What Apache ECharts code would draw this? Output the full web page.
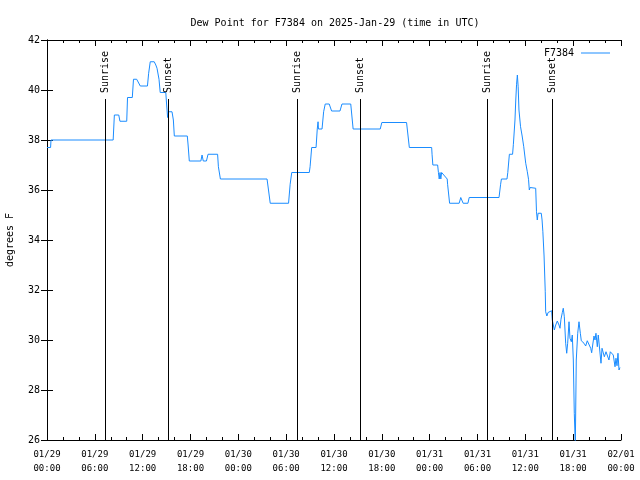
<!DOCTYPE html>
<html>
<head>
<meta charset="utf-8">
<script src="https://cdn.jsdelivr.net/npm/echarts@6/dist/echarts.min.js"></script>
<style>html,body{margin:0;padding:0;background:#fff}#c{width:640px;height:480px}</style>
</head>
<body>
<div id="c"></div>
<script>
// Hours since 2025-01-29 00:00 UTC
const hours = [
  0, 0.45, 0.5, 8.3, 8.45, 9.0, 9.15, 10.0, 10.1, 10.7, 10.85, 11.25, 11.7, 12.6, 12.75, 12.95, 13.45, 13.65, 13.8, 14.05,
  14.2, 14.9, 15.0, 15.13, 15.25, 15.68, 15.85, 15.97, 17.6, 17.7, 17.85, 19.3, 19.45, 19.6, 20.0, 20.2, 21.4, 21.5, 21.75,
  27.6, 27.8, 28.0, 30.3, 30.5, 30.7, 32.9, 33.0, 33.2, 33.75, 33.9, 34.0, 34.05, 34.5, 34.7, 34.9, 35.4, 35.7, 36.75, 37.0,
  38.1, 38.4, 41.8, 42.0, 45.1, 45.45, 48.25, 48.3, 48.4, 49.0, 49.1, 49.2, 49.3, 49.4, 49.5, 50.2, 50.25, 50.5, 51.7, 51.9,
  52.1, 52.2, 52.8, 52.96, 56.7, 56.9, 57.0, 57.7, 57.8, 58.0, 58.4, 58.5, 58.7, 58.8, 58.9, 59.0, 59.1, 59.2, 59.4, 59.6,
  59.8, 60.05, 60.25, 60.4, 60.5, 60.6, 60.7, 61.3, 61.4, 61.5, 61.6, 62.0, 62.1, 62.2, 62.35, 62.5, 62.55, 62.7, 62.85, 63.0,
  63.3, 63.38, 63.64, 63.81, 64.01, 64.22, 64.35, 64.47, 64.64, 64.76, 64.89, 65.06, 65.19, 65.31, 65.48, 65.60, 65.77, 65.89,
  66.02, 66.14, 66.27, 66.39, 66.57, 66.73, 66.90, 67.02, 67.36, 67.57, 67.77, 68.02, 68.20, 68.32, 68.45, 68.61, 68.74, 68.86,
  69.03, 69.15, 69.33, 69.49, 69.62, 69.78, 69.91, 70.12, 70.33, 70.49, 70.66, 70.83, 71.03, 71.25, 71.37, 71.50, 71.62, 71.75, 71.87
];
const dewPoint = [
  37.7, 37.7, 38.0, 38.0, 39.0, 39.0, 38.75, 38.75, 39.7, 39.7, 40.43, 40.43, 40.16, 40.16, 40.67, 41.13, 41.13, 41.0, 40.87, 40.43,
  39.9, 39.9, 39.44, 38.9, 39.13, 39.13, 38.8, 38.16, 38.16, 37.8, 37.16, 37.16, 37.4, 37.16, 37.16, 37.43, 37.43, 36.93, 36.44,
  36.44, 35.96, 35.47, 35.47, 36.23, 36.7, 36.7, 36.93, 37.7, 37.7, 38.44, 38.73, 38.44, 38.44, 39.13, 39.44, 39.44, 39.16, 39.16, 39.44,
  39.44, 38.44, 38.44, 38.7, 38.7, 37.7, 37.7, 37.43, 37.0, 37.0, 36.7, 36.44, 36.7, 36.44, 36.7, 36.44, 36.23, 35.47, 35.47, 35.7,
  35.7, 35.47, 35.47, 35.7, 35.7, 36.23, 36.44, 36.44, 36.7, 37.43, 37.43, 37.83, 38.8, 39.6, 40.23, 40.6, 40.13, 39.2, 38.53, 38.16,
  37.73, 37.07, 36.73, 36.43, 36.0, 36.1, 36.07, 36.07, 35.13, 34.8, 35.07, 35.07, 34.8, 34.33, 33.36, 31.93, 31.13, 30.96, 31.1, 31.17,
  31.17, 30.8, 30.4, 30.6, 30.76, 30.6, 30.47, 30.83, 31.1, 31.27, 30.93, 29.87, 29.47, 29.87, 30.73, 30.07, 29.93, 30.2,
  29.2, 27.07, 25.8, 29.2, 30.27, 30.73, 30.27, 29.97, 29.87, 29.76, 29.97, 29.97, 29.67, 29.49, 29.8, 30.16, 30.0, 30.27,
  29.73, 30.2, 30.27, 29.07, 29.67, 29.73, 29.33, 29.53, 29.53, 29.2, 29.53, 29.47, 29.4, 28.93, 29.27, 28.97, 29.47, 28.8, 28.9
];
const sunHours = [7.28, 15.18, 31.32, 39.3, 55.23, 63.38];
const sunLabels = ['Sunrise', 'Sunset', 'Sunrise', 'Sunset', 'Sunrise', 'Sunset'];
const sunLineTop = 39.64;
const xTickLabels = [
  '01/29\n00:00', '01/29\n06:00', '01/29\n12:00', '01/29\n18:00',
  '01/30\n00:00', '01/30\n06:00', '01/30\n12:00', '01/30\n18:00',
  '01/31\n00:00', '01/31\n06:00', '01/31\n12:00', '01/31\n18:00',
  '02/01\n00:00'
];
const seriesName = 'F7384';
const titleText = 'Dew Point for F7384 on 2025-Jan-29 (time in UTC)';
const yName = 'degrees F';

const FONT = 'DejaVu Sans Mono';
const lineColor = '#1a8cff';

const chart = echarts.init(document.getElementById('c'), null, {renderer: 'canvas'});

const baseX = {
  type: 'value', min: 0, max: 72, interval: 6,
  axisLine: {show: true, lineStyle: {color: '#000', width: 1}},
  axisTick: {show: true, inside: true, length: 6, lineStyle: {color: '#000'}},
  minorTick: {show: true, splitNumber: 3, length: 3, lineStyle: {color: '#000'}},
  splitLine: {show: false}
};
const baseY = {
  type: 'value', min: 26, max: 42, interval: 2,
  axisLine: {show: true, lineStyle: {color: '#000', width: 1}},
  axisTick: {show: true, inside: true, length: 6, lineStyle: {color: '#000'}},
  splitLine: {show: false}
};

chart.setOption({
  animation: false,
  backgroundColor: '#fff',
  title: {
    text: titleText, left: 330, top: 13, textAlign: 'center',
    textStyle: {fontFamily: FONT, fontSize: 10, fontWeight: 'normal', color: '#000'}
  },
  legend: {
    right: 25, top: 43, align: 'right', itemWidth: 29, itemHeight: 1, itemGap: 7,
    icon: 'rect',
    data: [seriesName],
    textStyle: {fontFamily: FONT, fontSize: 10, color: '#000', padding: [0, 2, 0, 0]}
  },
  grid: {left: 47, right: 19, top: 40, bottom: 40, containLabel: false, outerBoundsMode: 'none'},
  xAxis: [
    Object.assign({}, baseX, {
      position: 'bottom',
      axisLabel: {
        show: true, margin: 8, color: '#000', fontFamily: FONT, fontSize: 9, lineHeight: 14,
        formatter: v => xTickLabels[Math.round(v / 6)]
      }
    }),
    Object.assign({}, baseX, {position: 'top', axisLabel: {show: false}})
  ],
  yAxis: [
    Object.assign({}, baseY, {
      position: 'left',
      name: yName, nameLocation: 'middle', nameGap: 32, nameRotate: 90,
      nameTextStyle: {fontFamily: FONT, fontSize: 10, color: '#000'},
      axisLabel: {show: true, margin: 7, color: '#000', fontFamily: FONT, fontSize: 10}
    }),
    Object.assign({}, baseY, {position: 'right', axisLabel: {show: false}})
  ],
  series: [
    {
      name: seriesName, type: 'line', xAxisIndex: 0, yAxisIndex: 0,
      data: hours.map((h, i) => [h, dewPoint[i]]),
      showSymbol: false, symbol: 'none', clip: true,
      lineStyle: {color: lineColor, width: 1},
      itemStyle: {color: lineColor},
      z: 3
    },
    {
      name: 'sun', type: 'custom', xAxisIndex: 0, yAxisIndex: 0,
      data: sunHours.map((h, i) => [h, i]),
      silent: true, z: 4,
      renderItem: function (params, api) {
        const x = api.value(0);
        const idx = api.value(1);
        const top = api.coord([x, sunLineTop]);
        const bot = api.coord([x, 26]);
        const px = Math.round(top[0]) + 0.5;
        return {
          type: 'group',
          children: [
            {type: 'line', shape: {x1: px, y1: top[1], x2: px, y2: bot[1]},
             style: {stroke: '#000', lineWidth: 1}},
            {type: 'text', x: px, y: top[1] - 6, rotation: Math.PI / 2,
             style: {text: sunLabels[idx], font: '10px ' + FONT, fill: '#000',
                     align: 'left', verticalAlign: 'middle'}}
          ]
        };
      }
    }
  ]
});
</script>
</body>
</html>
